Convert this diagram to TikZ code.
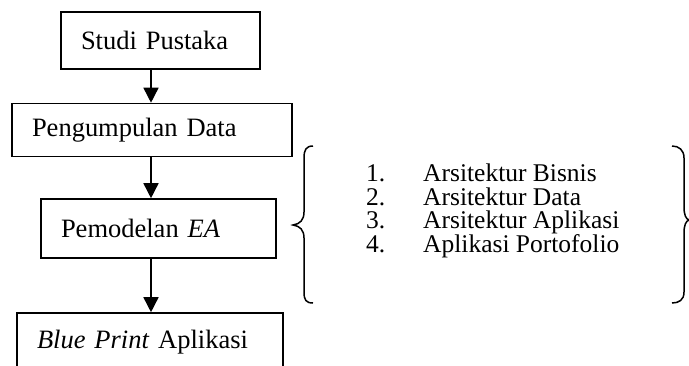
\documentclass[tikz,border=0pt]{standalone}
\usepackage{fontspec}
\setmainfont{Liberation Serif}
\usetikzlibrary{arrows.meta}
\newcommand{\itemnum}[1]{\makebox[57pt][l]{#1}}
\begin{document}
\begin{tikzpicture}[x=1pt,y=-1pt,
  font=\fontsize{26.5}{26.5}\selectfont,
  flowbox/.style={draw, line width=1.6pt, inner xsep=20pt, inner ysep=0pt, align=left},
  flowarrow/.style={line width=1.6pt, -{Triangle[length=15pt,width=15pt]}},
  brace/.style={line width=1.5pt},
  itemlist/.style={anchor=base west, inner sep=0pt, align=left, font=\fontsize{25.5}{23.5}\selectfont}]
\useasboundingbox (0,0) rectangle (689,365);
\clip (0,0) rectangle (689,365);
\node[flowbox, minimum width=199pt, minimum height=57pt, text width=159pt] (sp) at (160.5,40.5) {Studi Pustaka};
\node[flowbox, minimum width=280pt, minimum height=53pt, text width=240pt] (pd) at (152,130) {Pengumpulan Data};
\node[flowbox, minimum width=235pt, minimum height=59pt, text width=195pt] (pm) at (158.5,228.5) {Pemodelan \textit{EA}};
\node[flowbox, minimum width=266pt, minimum height=58pt, text width=226pt] (bp) at (150,342) {\textit{Blue Print} Aplikasi};
\coordinate (a1) at (151,69);
\coordinate (a2) at (151,156);
\coordinate (a3) at (151,258);
\draw[flowarrow] (a1) -- (a1 |- pd.north);
\draw[flowarrow] (a2) -- (a2 |- pm.north);
\draw[flowarrow] (a3) -- (a3 |- bp.north);
% left brace
\draw[brace] (313,146) .. controls (306,146) and (304,150) .. (304,158) -- (304,212)
  .. controls (304,220) and (300,224) .. (293,225)
  .. controls (300,226) and (304,230) .. (304,238) -- (304,292)
  .. controls (304,300) and (306,303) .. (313,303);
% right brace
\draw[brace] (672,146) .. controls (679,146) and (684,150) .. (684,158) -- (684,207)
  .. controls (684,215) and (686,219) .. (689,220)
  .. controls (686,221) and (684,225) .. (684,233) -- (684,292)
  .. controls (684,300) and (679,303) .. (672,303);
\node[itemlist] (list) at (366,252) {\itemnum{1.}Arsitektur Bisnis\\
\itemnum{2.}Arsitektur Data\\
\itemnum{3.}Arsitektur Aplikasi\\
\itemnum{4.}Aplikasi Portofolio};
\end{tikzpicture}
\end{document}
